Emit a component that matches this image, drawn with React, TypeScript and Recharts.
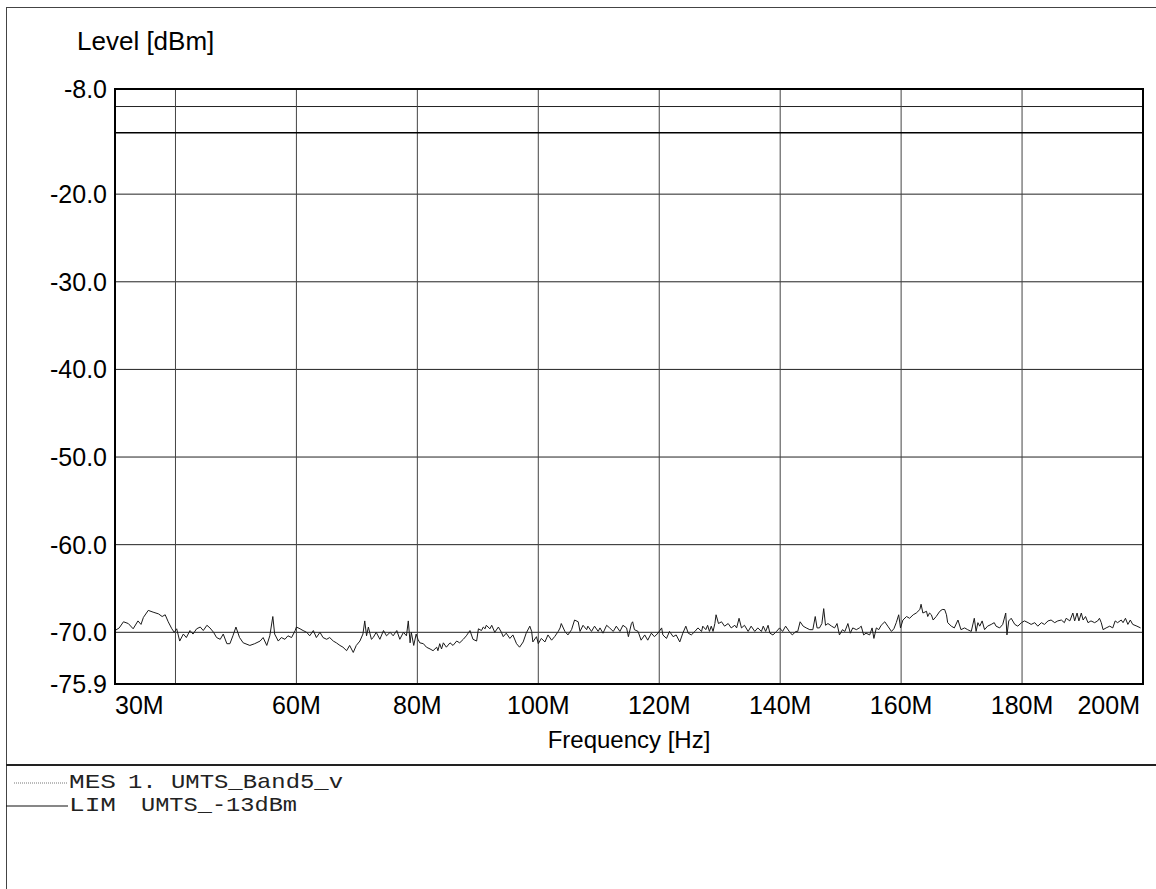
import { LineChart, Line, XAxis, YAxis, CartesianGrid, Legend, Label, ReferenceArea } from 'recharts';

// MES trace, frequency in MHz, level in dBm
const mesFreq = [
  30.0, 30.7, 31.4, 32.2, 33.0, 33.8, 34.3, 34.7, 35.5, 36.3, 37.2, 37.8, 38.3, 38.8, 39.4, 39.8,
  40.2, 40.7, 41.3, 41.8, 42.4, 42.9, 43.5, 44.1, 44.6, 45.2, 45.7, 46.3, 46.8, 47.4, 47.9, 48.5,
  49.0, 49.5, 50.0, 50.6, 51.2, 52.3, 53.1, 54.0, 54.5, 55.1, 55.6, 56.1, 56.4, 57.0, 57.5, 58.1,
  58.6, 59.2, 59.8, 60.0, 60.6, 61.1, 61.7, 62.2, 62.8, 63.3, 63.9, 64.4, 65.0, 65.5, 66.1, 66.6,
  67.2, 67.7, 68.3, 68.8, 69.4, 69.9, 70.5, 71.0, 71.3, 71.6, 71.9, 72.4, 72.7, 73.2, 73.8, 74.4,
  74.9, 75.5, 76.0, 76.6, 77.1, 77.7, 78.2, 78.5, 78.8, 79.0, 79.4, 79.8, 80.1, 80.4, 81.0, 81.5,
  82.1, 82.6, 83.2, 83.4, 83.7, 84.0, 84.3, 84.8, 85.4, 85.9, 86.5, 87.0, 87.6, 88.1, 88.7, 89.2,
  89.8, 90.1, 90.6, 90.9, 91.2, 91.4, 92.0, 92.3, 92.8, 93.4, 93.9, 94.2, 94.7, 95.3, 95.8, 96.4,
  96.9, 97.5, 98.0, 98.6, 98.9, 99.1, 99.7, 100.0, 100.5, 101.1, 101.6, 102.2, 102.7, 103.3, 103.6, 103.8,
  104.4, 104.9, 105.5, 106.0, 106.6, 106.9, 107.4, 108.0, 108.2, 108.8, 109.3, 109.9, 110.2, 110.7, 111.3, 111.8,
  112.4, 112.9, 113.5, 114.0, 114.6, 114.9, 115.4, 115.6, 115.9, 116.5, 117.0, 117.6, 118.1, 118.7, 119.2, 119.8,
  120.4, 120.6, 121.2, 121.7, 122.3, 122.8, 123.4, 123.9, 124.4, 124.8, 125.3, 125.9, 126.4, 127.0, 127.2, 127.7,
  128.0, 128.3, 128.6, 128.9, 129.2, 129.4, 129.8, 130.3, 130.8, 131.4, 131.9, 132.5, 132.8, 133.2, 133.6, 134.1,
  134.7, 135.2, 135.8, 136.3, 136.9, 137.2, 137.6, 138.0, 138.3, 138.8, 139.4, 139.9, 140.4, 140.9, 141.5, 142.0,
  142.6, 142.9, 143.3, 143.8, 144.3, 144.9, 145.4, 145.8, 146.1, 146.5, 146.9, 147.2, 147.5, 147.9, 148.5, 149.0,
  149.4, 149.8, 150.3, 150.7, 151.2, 151.6, 152.0, 152.6, 153.1, 153.4, 153.8, 154.2, 154.8, 155.2, 155.5, 155.9,
  156.3, 156.7, 157.3, 157.8, 158.4, 158.8, 159.2, 159.6, 159.9, 160.3, 160.9, 161.4, 162.0, 162.5, 163.1, 163.3,
  163.6, 164.2, 164.4, 164.7, 165.0, 165.3, 165.8, 166.4, 166.8, 167.2, 167.5, 167.7, 168.3, 168.8, 169.4, 169.9,
  170.5, 171.0, 171.6, 172.1, 172.4, 172.7, 173.0, 173.4, 173.8, 174.3, 174.9, 175.4, 175.7, 176.3, 176.8, 177.3,
  177.5, 177.8, 178.2, 178.8, 179.3, 179.9, 180.4, 181.0, 181.5, 182.1, 182.6, 183.2, 183.7, 184.3, 184.8, 185.4,
  185.9, 186.5, 187.0, 187.3, 187.9, 188.4, 188.7, 189.1, 189.4, 189.8, 190.1, 190.5, 190.9, 191.4, 192.0, 192.5,
  192.8, 193.1, 193.4, 193.9, 194.5, 195.0, 195.4, 195.8, 196.4, 196.7, 197.1, 197.5, 197.9, 198.3, 199.0, 199.6,
];

const mesLevel = [
  -69.8, -69.5, -68.8, -69.0, -69.6, -68.7, -69.1, -68.3, -67.5, -67.7, -67.9, -68.2, -68.0, -68.8, -69.6, -70.0,
  -69.6, -71.0, -70.2, -70.6, -69.8, -70.2, -69.6, -69.4, -69.8, -69.2, -69.5, -70.0, -70.6, -70.8, -70.2, -71.3,
  -71.3, -70.4, -69.4, -70.6, -71.2, -71.5, -71.3, -71.0, -70.6, -71.5, -70.4, -68.2, -70.2, -71.0, -70.6, -70.8,
  -70.4, -70.6, -69.8, -69.4, -69.6, -69.8, -70.0, -70.4, -69.8, -70.6, -70.0, -70.6, -70.8, -70.6, -71.0, -71.2,
  -71.5, -71.7, -72.1, -71.5, -72.3, -71.5, -71.0, -70.2, -68.7, -70.4, -69.4, -70.8, -70.6, -70.0, -70.8, -69.8,
  -70.4, -70.0, -70.4, -69.8, -70.8, -70.0, -70.4, -68.7, -71.2, -70.0, -71.5, -70.2, -70.8, -71.2, -71.3, -71.7,
  -71.9, -72.1, -71.7, -72.1, -71.3, -71.9, -71.2, -71.7, -71.2, -71.5, -71.0, -71.2, -70.8, -70.4, -69.8, -70.8,
  -71.0, -69.6, -69.8, -69.4, -69.6, -69.2, -69.6, -69.2, -70.0, -69.4, -70.0, -70.5, -70.1, -70.7, -70.3, -71.3,
  -71.7, -71.1, -70.1, -69.3, -69.9, -71.1, -70.5, -71.3, -70.7, -71.1, -70.3, -70.9, -70.5, -69.9, -69.5, -69.0,
  -69.9, -70.3, -69.7, -68.6, -68.8, -69.9, -69.2, -69.7, -69.3, -69.9, -69.3, -69.9, -69.5, -70.1, -69.2, -69.5,
  -69.9, -69.3, -69.9, -69.2, -69.5, -70.5, -69.0, -68.8, -69.7, -69.9, -70.9, -70.3, -70.9, -70.1, -70.5, -70.1,
  -69.5, -70.3, -70.7, -69.9, -70.5, -70.3, -71.1, -70.1, -69.3, -70.1, -70.3, -69.9, -69.5, -69.9, -69.3, -69.7,
  -69.2, -69.9, -69.3, -69.9, -69.0, -68.0, -69.0, -68.8, -69.3, -69.0, -69.5, -69.2, -69.5, -68.4, -69.5, -69.2,
  -69.9, -69.3, -69.9, -69.5, -69.9, -69.3, -69.9, -69.2, -70.1, -70.3, -69.9, -69.5, -69.9, -69.3, -69.9, -70.3,
  -69.9, -69.9, -68.8, -69.3, -69.5, -69.7, -69.7, -68.2, -69.5, -69.5, -69.0, -67.3, -69.2, -69.0, -69.3, -69.5,
  -69.0, -70.3, -69.7, -69.9, -69.0, -70.1, -69.5, -69.7, -69.5, -69.3, -70.3, -70.1, -70.3, -69.5, -70.7, -69.5,
  -69.7, -69.2, -68.8, -69.3, -69.9, -69.6, -68.9, -68.0, -69.5, -68.6, -68.2, -68.4, -68.0, -67.8, -67.4, -66.8,
  -67.8, -67.6, -68.2, -67.8, -68.0, -68.6, -68.2, -67.6, -67.4, -67.4, -68.0, -68.9, -69.3, -69.5, -68.6, -69.7,
  -69.5, -69.7, -69.9, -68.4, -69.9, -68.9, -69.3, -68.7, -69.7, -69.3, -69.1, -68.9, -69.3, -69.5, -69.1, -67.8,
  -70.3, -68.7, -68.4, -69.1, -69.3, -68.9, -68.7, -68.9, -69.1, -68.9, -69.3, -68.9, -69.1, -68.7, -68.6, -68.9,
  -68.7, -68.6, -68.9, -68.4, -68.7, -67.8, -68.7, -67.8, -68.7, -67.8, -68.6, -68.2, -68.9, -68.7, -68.9, -68.7,
  -68.4, -68.9, -69.7, -69.5, -69.3, -69.5, -68.7, -68.9, -68.6, -68.9, -68.4, -69.1, -68.6, -69.1, -69.3, -69.5,
];

// LIM line UMTS_-13dBm
const limFreq = [30, 200];
const limLevel = [-13, -13];

const xTicks = [30, 40, 60, 80, 100, 120, 140, 160, 180, 200];
const xTickLabels = ['30M', '', '60M', '80M', '100M', '120M', '140M', '160M', '180M', '200M'];
const yTicks = [-75.9, -70, -60, -50, -40, -30, -20, -10, -8];
const yTickLabels = ['-75.9', '-70.0', '-60.0', '-50.0', '-40.0', '-30.0', '-20.0', '', '-8.0'];

const legendKeys = ['MES', 'LIM'];
const legendNames = ['1. UMTS_Band5_v', 'UMTS_-13dBm'];

const mesData = mesFreq.map((f, i) => ({ f, level: mesLevel[i] }));
const limData = limFreq.map((f, i) => ({ f, level: limLevel[i] }));

const SANS = '"Liberation Sans", Arial, sans-serif';
const MONO = '"Liberation Mono", "Courier New", monospace';

const XTick = (props: any) => {
  const { x, y, payload } = props;
  const idx = xTicks.indexOf(payload.value);
  const label = xTickLabels[idx] ?? '';
  if (!label) return null;
  let anchor = 'middle';
  let dx = 0;
  if (idx === 0) anchor = 'start';
  if (idx === xTicks.length - 1) {
    anchor = 'end';
    dx = -3;
  }
  return (
    <text x={x + dx} y={y + 13} textAnchor={anchor} dominantBaseline="central" fontSize={25} fontFamily={SANS} fill="#000">
      {label}
    </text>
  );
};

const YTick = (props: any) => {
  const { x, y, payload } = props;
  const idx = yTicks.indexOf(payload.value);
  const label = yTickLabels[idx] ?? '';
  if (!label) return null;
  return (
    <text x={x} y={y} textAnchor="end" dominantBaseline="central" fontSize={25} fontFamily={SANS} fill="#000">
      {label}
    </text>
  );
};

const renderLegend = (props: any) => {
  const names = (props.payload || []).map((e: any) => e.value);
  const rows = legendKeys.filter((k) => names.includes(k));
  return (
    <svg width={1156} height={60} style={{ display: 'block' }}>
      {rows.map((key, i) => {
        const k = legendKeys.indexOf(key);
        const rowY = 13 + i * 23;
        return (
          <g key={key}>
            {k === 0 ? (
              <line x1={14} x2={68} y1={rowY} y2={rowY} stroke="#777" strokeWidth={1} strokeDasharray="1 1" />
            ) : (
              <line x1={6} x2={68} y1={rowY} y2={rowY} stroke="#111" strokeWidth={1.2} />
            )}
            <text x={69} y={rowY + 5} fontSize={21} fontFamily={MONO} fill="#222" textLength={47} lengthAdjust="spacingAndGlyphs">
              {legendKeys[k]}
            </text>
            <text
              x={k === 0 ? 128 : 141}
              y={rowY + 5}
              fontSize={21}
              fontFamily={MONO}
              fill="#222"
              textLength={k === 0 ? 215 : 156}
              lengthAdjust="spacingAndGlyphs"
            >
              {legendNames[k]}
            </text>
          </g>
        );
      })}
    </svg>
  );
};

export default function App() {
  return (
    <div style={{ position: 'absolute', left: 0, top: 0, width: 1156, height: 889, background: '#fff', overflow: 'hidden' }}>
      {/* outer frame and legend separator */}
      <div style={{ position: 'absolute', left: 6, top: 7, width: 1160, height: 900, borderTop: '1px solid #444', borderLeft: '1px solid #444' }} />
      <div style={{ position: 'absolute', left: 6, top: 764, width: 1150, height: 0, borderTop: '2px solid #222' }} />
      <LineChart
        width={1156}
        height={889}
        margin={{ top: 89, right: 13, left: 8, bottom: 135 }}
        style={{ position: 'absolute', left: 0, top: 0 }}
      >
        <CartesianGrid horizontal={true} vertical={false} stroke="#222" strokeWidth={1} />
        <CartesianGrid horizontal={false} vertical={true} stroke="#444" strokeWidth={1} />
        <XAxis
          dataKey="f"
          type="number"
          domain={[30, 200]}
          ticks={xTicks}
          interval={0}
          allowDataOverflow
          height={70}
          tickLine={false}
          tickSize={6}
          tickMargin={2}
          axisLine={{ stroke: '#000', strokeWidth: 2 }}
          tick={<XTick />}
        >
          <Label
            content={(p: any) => {
              const vb = p.viewBox || { x: 115, y: 684, width: 1028, height: 70 };
              return (
                <text x={vb.x + vb.width / 2} y={vb.y + 64} textAnchor="middle" fontSize={24} fontFamily={SANS} fill="#000">
                  Frequency [Hz]
                </text>
              );
            }}
          />
        </XAxis>
        <YAxis
          type="number"
          domain={[-75.9, -8]}
          ticks={yTicks}
          interval={0}
          allowDataOverflow
          width={107}
          tickLine={false}
          tickSize={6}
          tickMargin={2}
          axisLine={{ stroke: '#000', strokeWidth: 2 }}
          tick={<YTick />}
        >
          <Label
            content={(p: any) => {
              const vb = p.viewBox || { x: 8, y: 89 };
              return (
                <text x={vb.x + 69} y={vb.y - 39} fontSize={26} fontFamily={SANS} fill="#000">
                  Level [dBm]
                </text>
              );
            }}
          />
        </YAxis>
        <ReferenceArea x1={30} x2={200} y1={-75.9} y2={-8} fill="none" stroke="#000" strokeWidth={2} ifOverflow="visible" />
        <Line
          data={limData}
          dataKey="level"
          name="LIM"
          type="linear"
          stroke="#000"
          strokeWidth={1.5}
          dot={false}
          activeDot={false}
          isAnimationActive={false}
        />
        <Line
          data={mesData}
          dataKey="level"
          name="MES"
          type="linear"
          stroke="#1a1a1a"
          strokeWidth={1}
          dot={false}
          activeDot={false}
          isAnimationActive={false}
        />
        <Legend
          layout="horizontal"
          verticalAlign="middle"
          align="center"
          content={renderLegend}
          wrapperStyle={{ position: 'absolute', left: 0, top: 770, width: 1156, height: 60 }}
        />
      </LineChart>
    </div>
  );
}
